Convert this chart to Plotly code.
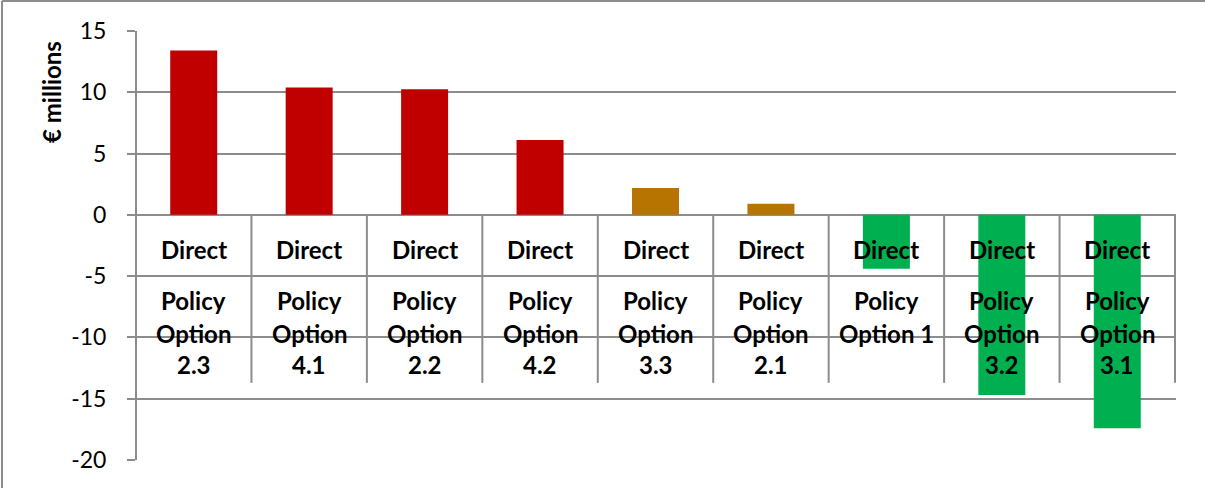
import plotly.graph_objects as go

# Direct cost impact per policy option (EUR millions), sorted high to low
categories = [
    "Policy Option 2.3",
    "Policy Option 4.1",
    "Policy Option 2.2",
    "Policy Option 4.2",
    "Policy Option 3.3",
    "Policy Option 2.1",
    "Policy Option 1",
    "Policy Option 3.2",
    "Policy Option 3.1",
]
# wrapped form of each category name as it appears in the axis table
category_lines = [
    ["Policy", "Option", "2.3"],
    ["Policy", "Option", "4.1"],
    ["Policy", "Option", "2.2"],
    ["Policy", "Option", "4.2"],
    ["Policy", "Option", "3.3"],
    ["Policy", "Option", "2.1"],
    ["Policy", "Option 1"],
    ["Policy", "Option", "3.2"],
    ["Policy", "Option", "3.1"],
]
inner_label = "Direct"
values = [13.4, 10.4, 10.25, 6.1, 2.2, 0.9, -4.4, -14.7, -17.4]
y_ticks = [-20, -15, -10, -5, 0, 5, 10, 15]
y_tick_text = ["-20", "-15", "-10", "-5", "0", "5", "10", "15"]

bar_colors = ["#C00000"] * 4 + ["#B87400"] * 2 + ["#00B050"] * 3

W, H = 1205, 488
ML, MR, MT, MB = 136, 29, 31, 28
GRID = "#8C8C8C"
FONT = "Lato"

fig = go.Figure(
    go.Bar(x=categories, y=values, marker=dict(color=bar_colors, line=dict(width=0)))
)

n = len(categories)
shapes = []
# value axis line
shapes.append(dict(type="line", xref="paper", yref="paper", x0=0, x1=0, y0=0, y1=1,
                   line=dict(color=GRID, width=2), layer="above"))
# axis table: vertical separators hanging below the zero line
for k in range(1, n + 1):
    shapes.append(dict(
        type="line", xref="x", yref="y", x0=k - 0.5, x1=k - 0.5,
        ysizemode="pixel", yanchor=0, y0=0, y1=-168,
        line=dict(color=GRID, width=2), layer="above",
    ))

# outer frame (left and top edges)
pw, ph = W - ML - MR, H - MT - MB
fx0 = (2 - ML) / pw
fy1 = (H - MB - 1) / ph
shapes.append(dict(type="line", xref="paper", yref="paper", x0=fx0, x1=fx0,
                   y0=-MB / ph, y1=fy1, line=dict(color=GRID, width=2)))
shapes.append(dict(type="line", xref="paper", yref="paper", x0=fx0, x1=(W - ML) / pw,
                   y0=fy1, y1=fy1, line=dict(color=GRID, width=2)))

annotations = []
label_font = dict(family=FONT, size=24, color="#000000", weight="bold")
row_shift = [-86, -119, -150]
for cat, lines in zip(categories, category_lines):
    annotations.append(dict(x=cat, y=0, xref="x", yref="y", text=inner_label,
                            showarrow=False, yshift=-35, font=label_font))
    for j, ln in enumerate(lines):
        annotations.append(dict(x=cat, y=0, xref="x", yref="y", text=ln,
                                showarrow=False, yshift=row_shift[j], font=label_font))

annotations.append(dict(
    text="€ millions", textangle=-90, showarrow=False,
    xref="paper", yref="paper", x=(52 - ML) / pw, y=(H - MB - 92) / ph,
    xanchor="center", yanchor="middle",
    font=dict(family=FONT, size=24, color="#000000", weight="bold"),
))

fig.update_layout(
    width=W, height=H,
    margin=dict(l=ML, r=MR, t=MT, b=MB, pad=0),
    paper_bgcolor="white", plot_bgcolor="white",
    bargap=0.593,
    showlegend=False,
    shapes=shapes,
    annotations=annotations,
    xaxis=dict(type="category", showticklabels=False, showgrid=False,
               zeroline=False, showline=False, ticks=""),
    yaxis=dict(range=[-20, 15], tickvals=y_ticks, ticktext=y_tick_text,
               showgrid=True, gridcolor=GRID,
               gridwidth=2, zeroline=True, zerolinecolor=GRID, zerolinewidth=2,
               showline=False,
               ticks="outside", ticklen=8, tickcolor=GRID, tickwidth=2,
               tickfont=dict(family=FONT, size=23, color="#000000"), ticklabelstandoff=16),
)

fig.write_html("out.html")
